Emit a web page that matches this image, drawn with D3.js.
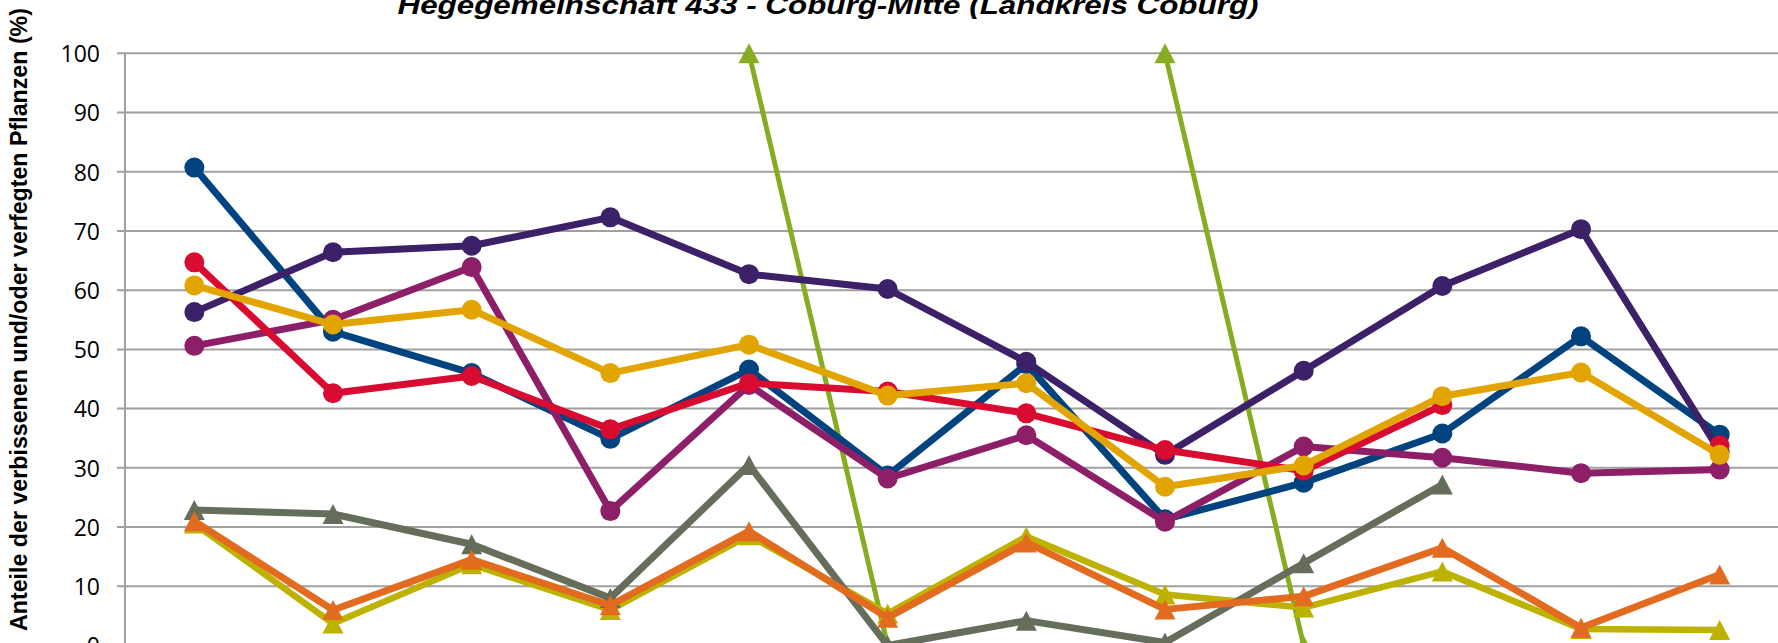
<!DOCTYPE html>
<html>
<head>
<meta charset="utf-8">
<script src="https://cdn.jsdelivr.net/npm/d3@7"></script>
<style>
  html, body { margin: 0; padding: 0; background: #fff; overflow: hidden; }
  svg { display: block; }
</style>
</head>
<body>
<script>
// ---- data ----
const categories = ["1991","1994","1997","2000","2003","2006","2009","2012","2015","2018","2021","2024"];
const yTicks = [0,10,20,30,40,50,60,70,80,90,100];

const seriesBlue    = [80.7, 53.0, 46.0, 34.9, 46.6, 28.7, 47.5, 21.3, 27.5, 35.8, 52.2, 35.6];
const seriesPurple  = [56.3, 66.4, 67.5, 72.3, 62.7, 60.2, 47.9, 32.2, 46.4, 60.7, 70.3, 32.8];
const seriesMagenta = [50.6, 55.0, 63.9, 22.7, 44.0, 28.2, 35.5, 20.9, 33.6, 31.7, 29.1, 29.7];
const seriesRed     = [64.7, 42.6, 45.5, 36.5, 44.3, 42.9, 39.2, 33.0, 29.5, 40.6, null, 33.8];
const seriesGold    = [60.8, 54.2, 56.7, 46.0, 50.8, 42.2, 44.3, 26.8, 30.4, 42.1, 46.1, 32.2];

const seriesGray    = [22.9, 22.2, 17.1, 8.0, 30.5, 0, 4.2, 0.5, 13.9, 27.2, null, null];
const seriesOrange  = [21.0, 6.0, 14.5, 6.8, 19.3, 4.7, 17.4, 6.1, 8.3, 16.5, 3.0, 12.0];
const seriesYellow  = [20.6, 3.7, 13.7, 6.0, 18.6, 5.4, 18.4, 8.6, 6.4, 12.5, 2.8, 2.6];
const seriesLime    = [null, null, null, null, 100, 0, null, 100, 0, null, null, null];

const title = "Hegegemeinschaft 433 - Coburg-Mitte (Landkreis Coburg)";
const yTitle = "Anteile der verbissenen und/oder verfegten Pflanzen (%)";

// ---- layout ----
const W = 1778, H = 643;
const plotLeft = 125, plotRight = 1789, plotTop = 53.3, plotBottom = 645.5;

const svg = d3.select("body").append("svg").attr("width", W).attr("height", H);

const x = d3.scaleBand().domain(categories).range([plotLeft, plotRight]);
const y = d3.scaleLinear().domain([0, 100]).range([plotBottom, plotTop]);
const cx = c => x(c) + x.bandwidth() / 2;

// gridlines
svg.append("g")
  .selectAll("line").data(yTicks).join("line")
  .attr("x1", plotLeft - 8).attr("x2", plotRight)
  .attr("y1", d => y(d)).attr("y2", d => y(d))
  .attr("stroke", "#a0a0a0").attr("stroke-width", 2);

// y axis line
svg.append("line")
  .attr("x1", plotLeft).attr("x2", plotLeft)
  .attr("y1", plotTop).attr("y2", plotBottom)
  .attr("stroke", "#a0a0a0").attr("stroke-width", 2);

// y axis labels via d3 axis
const yAxis = d3.axisLeft(y).tickValues(yTicks).tickSize(0).tickPadding(0);
const gy = svg.append("g").attr("transform", `translate(100,0)`).call(yAxis);
gy.select(".domain").remove();
gy.selectAll("text")
  .attr("font-family", "'Open Sans', 'Liberation Sans', sans-serif")
  .attr("font-size", 23)
  .attr("fill", "#000")
  .attr("dy", "0.36em");

// title
svg.append("text")
  .attr("x", 828).attr("y", 14)
  .attr("text-anchor", "middle")
  .attr("font-family", "'Liberation Sans', sans-serif")
  .attr("font-weight", "bold").attr("font-style", "italic")
  .attr("font-size", 25)
  .attr("textLength", 861).attr("lengthAdjust", "spacingAndGlyphs")
  .text(title);

// y title
svg.append("text")
  .attr("transform", `translate(27,${(8 + 631) / 2}) rotate(-90)`)
  .attr("text-anchor", "middle")
  .attr("font-family", "'Liberation Sans', sans-serif")
  .attr("font-weight", "bold")
  .attr("font-size", 23.5)
  .attr("textLength", 623).attr("lengthAdjust", "spacingAndGlyphs")
  .text(yTitle);

// series
const series = [
  { values: seriesLime,    color: "#86ac22", marker: "tri", width: 5 },
  { values: seriesYellow,  color: "#bdb200", marker: "tri", width: 6.5 },
  { values: seriesGray,    color: "#646e5b", marker: "tri", width: 7 },
  { values: seriesOrange,  color: "#e36b1f", marker: "tri", width: 7 },
  { values: seriesBlue,    color: "#00437f", marker: "circle", width: 7 },
  { values: seriesPurple,  color: "#3d2168", marker: "circle", width: 7 },
  { values: seriesMagenta, color: "#8d1f68", marker: "circle", width: 7 },
  { values: seriesRed,     color: "#d80b30", marker: "circle", width: 7 },
  { values: seriesGold,    color: "#e2a400", marker: "circle", width: 7 }
];

const line = d3.line()
  .defined(d => d.v != null)
  .x(d => cx(d.c))
  .y(d => y(d.v));

const triPath = (w, h) => `M0,${-h/2}L${w/2},${h/2}L${-w/2},${h/2}Z`;

series.forEach(s => {
  const pts = categories.map((c, i) => ({ c, v: s.values[i] }));
  const g = svg.append("g");
  g.append("path")
    .datum(pts)
    .attr("d", line)
    .attr("fill", "none")
    .attr("stroke", s.color)
    .attr("stroke-width", s.width)
    .attr("stroke-linejoin", "round");
  const valid = pts.filter(d => d.v != null);
  if (s.marker === "circle") {
    g.selectAll("circle").data(valid).join("circle")
      .attr("cx", d => cx(d.c)).attr("cy", d => y(d.v))
      .attr("r", 10).attr("fill", s.color);
  } else {
    g.selectAll("path.m").data(valid).join("path")
      .attr("class", "m")
      .attr("transform", d => `translate(${cx(d.c)},${y(d.v)})`)
      .attr("d", triPath(21, 20))
      .attr("fill", s.color);
  }
});
</script>
</body>
</html>
